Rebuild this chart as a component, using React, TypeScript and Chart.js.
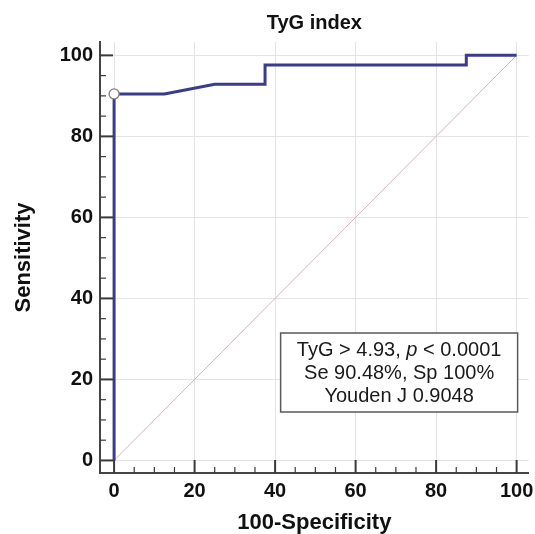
import React, { useEffect, useRef } from "react";
import { Chart, registerables } from "chart.js";

Chart.register(...registerables);

// ---- data ----
const CHART_TITLE = "TyG index";
const X_TITLE = "100-Specificity";
const Y_TITLE = "Sensitivity";
const TICK_VALUES = [0, 20, 40, 60, 80, 100];
const MINOR_VALUES = [0, 5, 10, 15, 20, 25, 30, 35, 40, 45, 50, 55, 60, 65, 70, 75, 80, 85, 90, 95, 100];
const ROC_FPR = [0, 0, 12.5, 25, 37.5, 37.5, 87.5, 87.5, 100];
const ROC_TPR = [0, 90.48, 90.48, 92.86, 92.86, 97.62, 97.62, 100, 100];
const DIAG_X = [0, 100];
const DIAG_Y = [0, 100];
const CUTOFF_X = [0];
const CUTOFF_Y = [90.48];
const NOTE_LINE1: [string, boolean][] = [
  ["TyG > 4.93, ", false],
  ["p", true],
  [" < 0.0001", false],
];
const NOTE_LINE2 = "Se 90.48%, Sp 100%";
const NOTE_LINE3 = "Youden J 0.9048";

const FAMILY = '"Liberation Sans", Arial, Helvetica, sans-serif';

const zeroPadding = () => ({ left: 0, right: 0, top: 0, bottom: 0 });

const minorTicksPlugin = {
  id: "minorTicks",
  afterDraw(chart: any) {
    const { ctx, chartArea } = chart;
    const xs = chart.scales.x;
    const ys = chart.scales.y;
    ctx.save();
    ctx.strokeStyle = "#3a3a3a";
    for (const v of MINOR_VALUES) {
      const major = TICK_VALUES.includes(v);
      const len = major ? 13 : 6;
      ctx.lineWidth = major ? 2 : 1.2;
      const px = xs.getPixelForValue(v);
      ctx.beginPath();
      ctx.moveTo(px, chartArea.bottom);
      ctx.lineTo(px, chartArea.bottom - len);
      ctx.stroke();
      const py = ys.getPixelForValue(v);
      ctx.beginPath();
      ctx.moveTo(chartArea.left, py);
      ctx.lineTo(chartArea.left + len, py);
      ctx.stroke();
    }
    ctx.restore();
  },
};

const notePlugin = {
  id: "noteBox",
  afterDraw(chart: any) {
    const { ctx, chartArea } = chart;
    const right = chart.scales.x.getPixelForValue(100) + 1;
    const left = right - 237;
    const bottom = chartArea.bottom - 61;
    const top = bottom - 79;
    ctx.save();
    ctx.fillStyle = "#ffffff";
    ctx.fillRect(left, top, right - left, bottom - top);
    ctx.strokeStyle = "#5a5a5a";
    ctx.lineWidth = 1.5;
    ctx.strokeRect(left, top, right - left, bottom - top);
    const cx = (left + right) / 2;
    ctx.fillStyle = "#1a1a1a";
    ctx.textBaseline = "middle";
    const fontN = `20px ${FAMILY}`;
    const fontI = `italic 20px ${FAMILY}`;
    let total = 0;
    const widths = NOTE_LINE1.map(([t, it]) => {
      ctx.font = it ? fontI : fontN;
      const w = ctx.measureText(t).width;
      total += w;
      return w;
    });
    let x = cx - total / 2;
    ctx.textAlign = "left";
    NOTE_LINE1.forEach(([t, it], i) => {
      ctx.font = it ? fontI : fontN;
      ctx.fillText(t, x, top + 17);
      x += widths[i];
    });
    ctx.textAlign = "center";
    ctx.font = fontN;
    ctx.fillText(NOTE_LINE2, cx, top + 40);
    ctx.fillText(NOTE_LINE3, cx, top + 63);
    ctx.restore();
  },
};

export default function App() {
  const ref = useRef<HTMLCanvasElement | null>(null);
  useEffect(() => {
    if (!ref.current) return;
    const chart = new Chart(ref.current, {
      type: "scatter",
      data: {
        datasets: [
          {
            label: "cutoff",
            data: CUTOFF_X.map((x, i) => ({ x, y: CUTOFF_Y[i] })),
            pointRadius: 5,
            pointBackgroundColor: "#ffffff",
            pointBorderColor: "#808080",
            pointBorderWidth: 1.3,
            showLine: false,
            order: 0,
          },
          {
            label: "ROC",
            data: ROC_FPR.map((x, i) => ({ x, y: ROC_TPR[i] })),
            borderColor: "#3b3b8e",
            borderWidth: 3,
            pointRadius: 0,
            showLine: true,
            tension: 0,
            order: 1,
          },
          {
            label: "diag",
            data: DIAG_X.map((x, i) => ({ x, y: DIAG_Y[i] })),
            borderColor: "#d9b0c2",
            borderWidth: 1,
            pointRadius: 0,
            showLine: true,
            order: 2,
          },
        ],
      },
      options: {
        responsive: false,
        animation: false,
        events: [],
        layout: { padding: { top: 0, right: 2, bottom: 0, left: 0 } },
        plugins: {
          legend: { display: false },
          tooltip: { enabled: false },
          title: {
            display: true,
            text: CHART_TITLE,
            fullSize: false,
            color: "#111111",
            font: { family: FAMILY, size: 20, weight: "bold", lineHeight: 1.2 },
            padding: { top: 11, bottom: 7 },
          },
        },
        scales: {
          x: {
            type: "linear",
            min: -3.5,
            max: 103,
            afterBuildTicks: (s: any) => {
              s.ticks = TICK_VALUES.map((v) => ({ value: v }));
            },
            afterFit: (s: any) => {
              s.height = 61;
              s.paddingLeft = 0;
              s.paddingRight = 0;
              s.getPadding = zeroPadding;
            },
            grid: { color: "#e4e4e4", lineWidth: 1, drawTicks: false },
            border: { display: true, color: "#454545", width: 2 },
            ticks: {
              autoSkip: false,
              maxRotation: 0,
              padding: 6,
              color: "#111111",
              font: { family: FAMILY, size: 20, weight: "bold" },
            },
            title: {
              display: true,
              text: X_TITLE,
              color: "#111111",
              font: { family: FAMILY, size: 22, weight: "bold", lineHeight: 1 },
              padding: { top: 0, bottom: 0 },
            },
          },
          y: {
            type: "linear",
            min: -3.1,
            max: 103.3,
            afterBuildTicks: (s: any) => {
              s.ticks = TICK_VALUES.map((v) => ({ value: v }));
            },
            afterFit: (s: any) => {
              s.width = 100;
              s.paddingTop = 0;
              s.paddingBottom = 0;
              s.getPadding = zeroPadding;
            },
            grid: { color: "#e4e4e4", lineWidth: 1, drawTicks: false },
            border: { display: true, color: "#454545", width: 2 },
            ticks: {
              autoSkip: false,
              padding: 7,
              color: "#111111",
              font: { family: FAMILY, size: 20, weight: "bold" },
            },
            title: {
              display: true,
              text: Y_TITLE,
              color: "#111111",
              font: { family: FAMILY, size: 22, weight: "bold", lineHeight: 1 },
              padding: { top: 13, bottom: 0 },
            },
          },
        },
      } as any,
      plugins: [minorTicksPlugin, notePlugin],
    });
    return () => chart.destroy();
  }, []);
  return (
    <div style={{ position: "absolute", left: 0, top: 0, width: 535, height: 534, background: "#fff" }}>
      <canvas ref={ref} width={535} height={534} />
    </div>
  );
}
